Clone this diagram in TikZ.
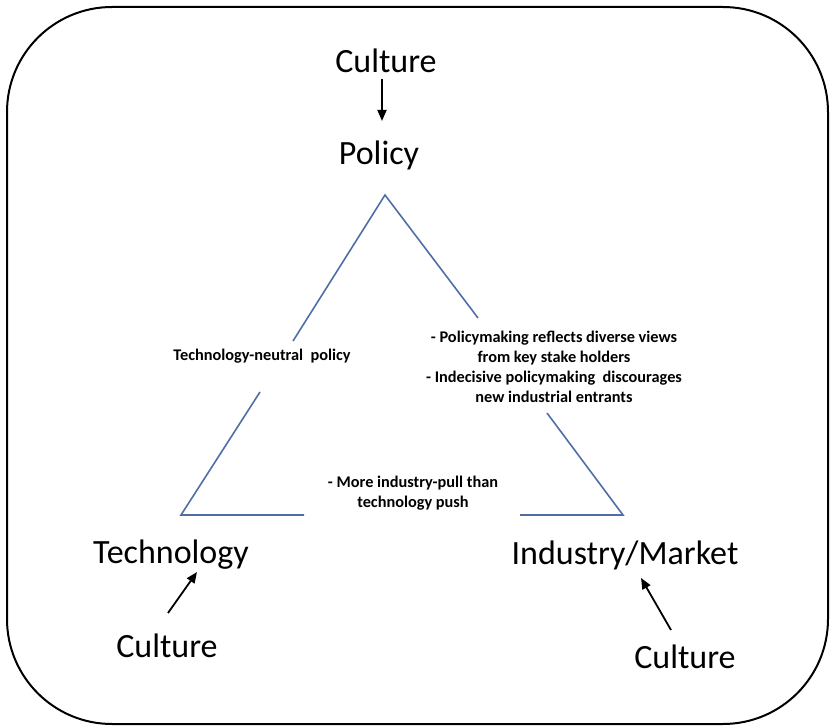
\documentclass[tikz,border=0pt]{standalone}
\usepackage{fontspec}
\setmainfont{Carlito}
\usetikzlibrary{arrows.meta}
\definecolor{triblue}{RGB}{79,110,165}
\tikzset{
  big/.style={font=\fontsize{34}{40}\selectfont, inner sep=0pt, anchor=base},
  small/.style={font=\bfseries\fontsize{16.3}{20}\selectfont, align=center, inner sep=0pt},
  tri/.style={draw=triblue, line width=1.6pt},
  arr/.style={draw=black, line width=1.8pt, -{Triangle[length=11pt,width=9pt]}}
}
\begin{document}
\begin{tikzpicture}[x=1pt,y=-1pt]
\useasboundingbox (0,0) rectangle (831,727);
\draw[line width=2pt, rounded corners=105pt] (7,7) rectangle (828,724);

% big labels
\node[big] (cultop) at (386,73) {Culture};
\node[big] (policy) at (379,165) {Policy};
\node[big] (tech) at (171,563) {Technology};
\node[big] (ind) at (625,565) {Industry/Market};
\node[big] (cultl) at (167,657) {Culture};
\node[big] (cultr) at (685,668) {Culture};

% arrows
\coordinate (a1s) at (382,79);
\coordinate (a1e) at (382,121);
\draw[arr] (a1s) -- (a1e);
\coordinate (a2s) at (168,613);
\coordinate (a2e) at (197,572);
\draw[arr] (a2s) -- (a2e);
\coordinate (a3s) at (671,630);
\coordinate (a3e) at (641,578);
\draw[arr] (a3s) -- (a3e);

% triangle
\coordinate (apex) at (385,195);
\coordinate (bl) at (181,515);
\coordinate (br) at (623,515);
\coordinate (l1) at (293,341);
\coordinate (l2) at (260,392);
\coordinate (r1) at (478,318);
\coordinate (r2) at (547,413);
\coordinate (b1) at (304,515);
\coordinate (b2) at (520,515);
\draw[tri] (l1) -- (apex) -- (r1);
\draw[tri] (l2) -- (bl) -- (b1);
\draw[tri] (r2) -- (br) -- (b2);

% side labels
\node[small] (lbl) at (262,356) {Technology-neutral\ \ policy};
\node[small] (rbl) at (554,367) {- Policymaking reflects diverse views\\from key stake holders\\- Indecisive policymaking\ \ discourages\\new industrial entrants};
\node[small] (bbl) at (413,493) {- More industry-pull than\\technology push};
\end{tikzpicture}
\end{document}
